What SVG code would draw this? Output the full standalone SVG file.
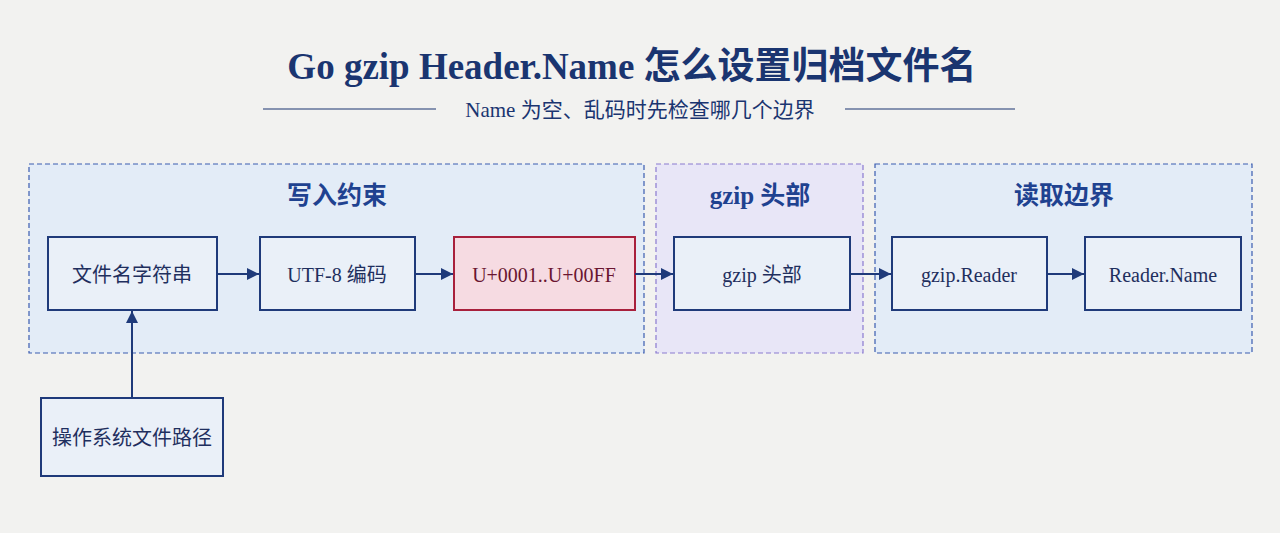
<svg xmlns="http://www.w3.org/2000/svg" width="1280" height="533" viewBox="0 0 1280 533">
<defs>
<marker id="ah" viewBox="0 0 10 10" refX="10" refY="5" markerWidth="12" markerHeight="12" markerUnits="userSpaceOnUse" orient="auto"><path d="M0,0L10,5L0,10z" fill="#1f3a7a"/></marker>
<style>
text{font-family:"Liberation Serif","Noto Sans CJK SC",serif;text-anchor:middle;fill:#1f2f5e}
.n{fill:#eaf0f8;stroke:#1f3a7a;stroke-width:2}
.r{fill:#f6dbe2;stroke:#a8203c;stroke-width:2}
.g{stroke-dasharray:5 3;stroke-width:1.2}
.lbl{font-size:20px}
.gt{font-size:25px;fill:#1f4290;font-weight:bold}
.c{stroke:#1f3a7a;stroke-width:2;fill:none;marker-end:url(#ah)}
</style>
</defs>
<rect width="1280" height="533" fill="#f2f2f0"/>
<g id="title">
<text x="632" y="79" style="font-size:37px;font-weight:bold;fill:#1a3570">Go gzip Header.Name 怎么设置归档文件名</text>
<text x="640" y="117" style="font-size:21px;fill:#1a3570">Name 为空、乱码时先检查哪几个边界</text>
<line x1="263" y1="109" x2="436" y2="109" stroke="#1a3570" stroke-width="1"/>
<line x1="845" y1="109" x2="1015" y2="109" stroke="#1a3570" stroke-width="1"/>
</g>
<g id="g1"><rect class="g" x="29" y="164" width="615" height="189" fill="#e3ecf7" stroke="#3a5cb0"/><text class="gt" x="337" y="204">写入约束</text></g>
<g id="g2"><rect class="g" x="656" y="164" width="207" height="189" fill="#e8e6f7" stroke="#8a7ad0"/><text class="gt" x="760" y="204">gzip 头部</text></g>
<g id="g3"><rect class="g" x="875" y="164" width="377" height="189" fill="#e3ecf7" stroke="#3a5cb0"/><text class="gt" x="1064" y="204">读取边界</text></g>
<g id="n1"><rect class="n" x="48" y="237" width="169" height="73"/><text class="lbl" x="132" y="282">文件名字符串</text></g>
<g id="n2"><rect class="n" x="260" y="237" width="155" height="73"/><text class="lbl" x="337" y="282">UTF-8 编码</text></g>
<g id="n3"><rect class="r" x="454" y="237" width="181" height="73"/><text class="lbl" x="544" y="282" style="fill:#6a1530">U+0001..U+00FF</text></g>
<g id="n4"><rect class="n" x="674" y="237" width="176" height="73"/><text class="lbl" x="762" y="282">gzip 头部</text></g>
<g id="n5"><rect class="n" x="892" y="237" width="155" height="73"/><text class="lbl" x="969" y="282">gzip.Reader</text></g>
<g id="n6"><rect class="n" x="1085" y="237" width="156" height="73"/><text class="lbl" x="1163" y="282">Reader.Name</text></g>
<g id="n7"><rect class="n" x="41" y="398" width="182" height="78"/><text class="lbl" x="132" y="445">操作系统文件路径</text></g>
<g id="connectors">
<path class="c" d="M217,274H259"/>
<path class="c" d="M415,274H453"/>
<path class="c" d="M635,274H673"/>
<path class="c" d="M850,274H891"/>
<path class="c" d="M1047,274H1084"/>
<path class="c" d="M132,398V311"/>
</g>
</svg>
